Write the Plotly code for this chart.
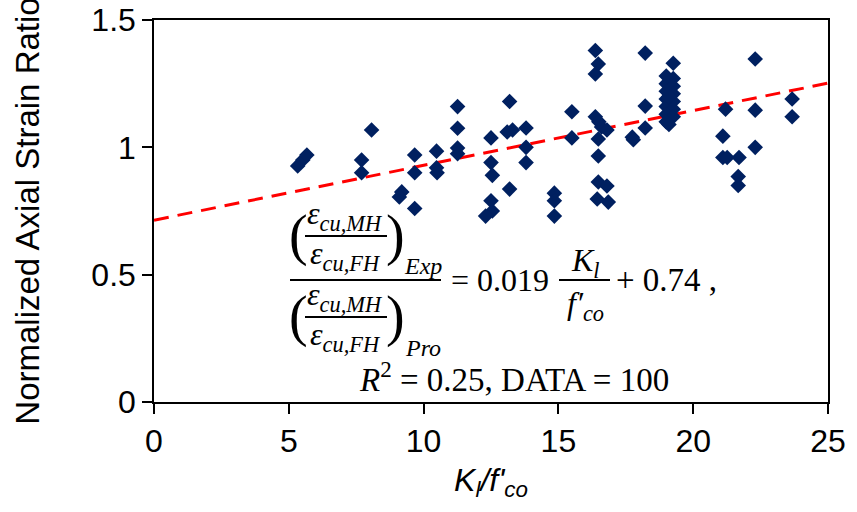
import plotly.graph_objects as go

# scatter data
kl_fco = [5.33, 5.52, 5.67,
          8.07, 7.7, 7.7,
          9.19, 9.1,
          9.67, 9.67, 9.67,
          10.48, 10.48, 10.5,
          11.26, 11.26, 11.26, 11.26,
          12.5, 12.5, 12.55, 12.5, 12.55, 12.3,
          13.19, 13.1, 13.3, 13.19,
          13.8, 13.8, 13.8,
          14.85, 14.85, 14.85,
          15.5, 15.5,
          16.37, 16.48, 16.37,
          16.37, 16.5, 16.6, 16.8, 16.48, 16.48,
          16.48, 16.8, 16.44, 16.85,
          17.74, 17.78,
          18.22, 18.22, 18.22,
          19.26, 19.0, 19.26, 19.0, 19.26, 19.0, 19.26, 19.0,
          19.26, 19.0, 19.26, 19.0, 19.26, 19.0, 19.1, 19.1,
          21.2, 21.1, 21.1, 21.26, 21.7, 21.67, 21.67,
          22.3, 22.3, 22.3,
          23.67, 23.67]
strain_ratio = [0.927, 0.95, 0.97,
                1.068, 0.95, 0.90,
                0.825, 0.805,
                0.97, 0.90, 0.76,
                0.985, 0.92, 0.90,
                1.16, 1.075, 0.997, 0.975,
                1.037, 0.94, 0.89, 0.79, 0.75, 0.73,
                1.18, 1.06, 1.068, 0.836,
                1.076, 1.0, 0.94,
                0.82, 0.79, 0.73,
                1.14, 1.037,
                1.38, 1.327, 1.288,
                1.12, 1.10, 1.08, 1.068, 1.033, 0.966,
                0.864, 0.848, 0.797, 0.785,
                1.04, 1.03,
                1.37, 1.162, 1.076,
                1.33, 1.28, 1.27, 1.25, 1.24, 1.22, 1.21, 1.19,
                1.18, 1.16, 1.15, 1.13, 1.12, 1.10, 1.09, 1.20,
                1.15, 1.044, 0.96, 0.96, 0.96, 0.885, 0.85,
                1.347, 1.146, 1.0,
                1.19, 1.12]

# dashed trend line end points
trend_x = [0, 25]
trend_y = [0.714, 1.252]

x_ticks = [0, 5, 10, 15, 20, 25]
y_ticks = [0, 0.5, 1, 1.5]
y_tick_text = ['0', '0.5', '1', '1.5']

W, H = 857, 512
L, R, T, B = 154, 29, 20, 110
PW, PH = W - L - R, H - T - B


def px(x):
    return (x - L) / PW


def py(y):
    return (H - B - y) / PH


fig = go.Figure()
fig.add_trace(go.Scatter(x=trend_x, y=trend_y, mode='lines',
                         line=dict(color='#FF0000', width=3, dash='15px,9px'),
                         hoverinfo='skip'))
fig.add_trace(go.Scatter(x=kl_fco, y=strain_ratio, mode='markers',
                         marker=dict(symbol='diamond', size=12, color='#002060')))

serif = 'Liberation Serif'
ann = []


def txt(x, y, s, size=26, xanchor='center'):
    ann.append(dict(x=px(x), y=py(y), xref='paper', yref='paper', text=s,
                    showarrow=False, xanchor=xanchor, yanchor='middle',
                    font=dict(family=serif, size=size, color='black')))


shapes = []


def bar(x0, x1, y):
    shapes.append(dict(type='line', xref='paper', yref='paper',
                       x0=px(x0), x1=px(x1), y0=py(y), y1=py(y),
                       line=dict(color='black', width=2)))


eps_mh = '<i>ε</i><sub><i>cu,MH</i></sub>'
eps_fh = '<i>ε</i><sub><i>cu,FH</i></sub>'

# numerator
txt(298, 235, '(', 56)
txt(345, 215, eps_mh, 32)
bar(305, 387, 236)
txt(345, 255, eps_fh, 32)
txt(395, 235, ')', 56)
txt(423, 266, '<i>Exp</i>', 24)
# big fraction bar
bar(290, 441, 280)
# denominator
txt(298, 316, '(', 56)
txt(345, 296, eps_mh, 32)
bar(305, 387, 317)
txt(345, 336, eps_fh, 32)
txt(395, 316, ')', 56)
txt(423, 348, '<i>Pro</i>', 24)
# right hand side
txt(449, 280, '= 0.019', 32, 'left')
txt(585, 262, '<i>K</i><sub><i>l</i></sub>', 32)
bar(559, 610, 280)
txt(585, 305, "<i>f′</i><sub><i>co</i></sub>", 32)
txt(614, 280, '+ 0.74 ,', 33, 'left')
txt(514, 377, '<i>R</i><sup>2</sup> = 0.25, DATA = 100', 33)

fig.update_layout(
    width=W, height=H,
    margin=dict(l=L, r=R, t=T, b=B),
    paper_bgcolor='white', plot_bgcolor='white',
    showlegend=False,
    annotations=ann, shapes=shapes,
    font=dict(family='Liberation Sans', size=32, color='black'),
)
fig.update_xaxes(range=[0, 25], tickvals=x_ticks, showgrid=False, zeroline=False,
                 automargin=False,
                 showline=True, linecolor='black', linewidth=1.5, mirror=True,
                 ticks='outside', ticklen=10, tickwidth=1.5, tickcolor='black',
                 tickfont=dict(size=32),
                 title=dict(text="<i>K<sub>l</sub>/f'<sub>co</sub></i>", font=dict(size=32), standoff=10))
fig.update_yaxes(range=[0, 1.5], tickvals=y_ticks, ticktext=y_tick_text,
                 showgrid=False, zeroline=False, automargin=False,
                 showline=True, linecolor='black', linewidth=1.5, mirror=True,
                 ticks='outside', ticklen=10, tickwidth=1.5, tickcolor='black',
                 tickfont=dict(size=32),
                 title=dict(text='Normalized Axial Strain Ratio', font=dict(size=33), standoff=42))

fig.write_html('out.html', config={'displayModeBar': False},
               post_script="document.body.style.margin='0';")
